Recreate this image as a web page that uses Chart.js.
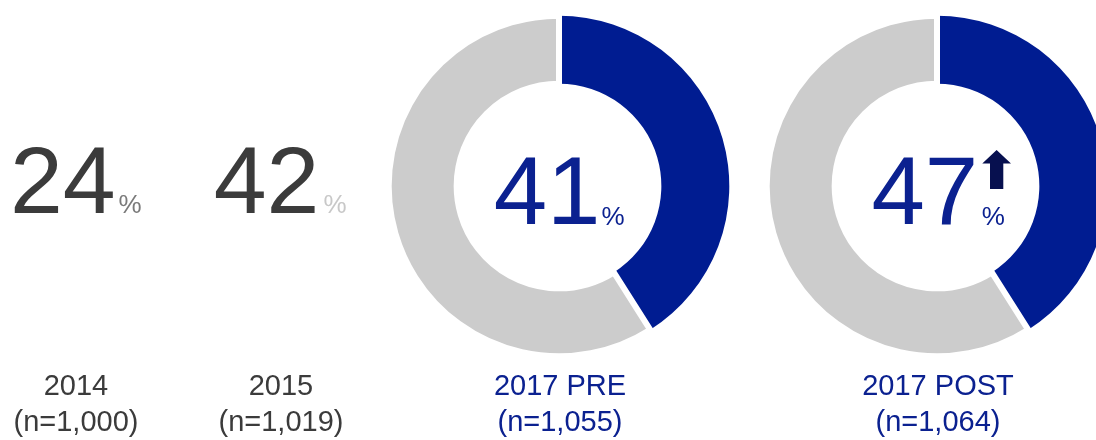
<!DOCTYPE html>
<html>
<head>
<meta charset="utf-8">
<script src="https://cdn.jsdelivr.net/npm/chart.js@4/dist/chart.umd.min.js"></script>
<style>
  html, body { margin: 0; padding: 0; background: #ffffff; }
  body { width: 1096px; height: 440px; overflow: hidden; position: relative;
         font-family: 'Liberation Sans', Arial, sans-serif; }
  .t { position: absolute; line-height: 1; white-space: nowrap; }
  .c { position: absolute; }
</style>
</head>
<body>
<canvas id="ring0" class="c" width="360" height="360" style="left:379px;top:6px;"></canvas>
<canvas id="ring1" class="c" width="360" height="360" style="left:757px;top:6px;"></canvas>
<svg id="arrow" style="position:absolute;left:0;top:0;width:1096px;height:440px;pointer-events:none;">
  <polygon points="982.3,163.5 996.6,150 1011,163.5 1003.3,163.5 1003.3,189 990,189 990,163.5" fill="#07104f"/>
</svg>
<script>
// ---- data ----
const categories = ['2014', '2015', '2017 PRE', '2017 POST'];
const sampleSizes = ['(n=1,000)', '(n=1,019)', '(n=1,055)', '(n=1,064)'];
const headlineValues = [24, 42, 41, 47];
// share shown as the blue arc in each ring (as drawn in the picture)
const ringValues = [41, 41];

// ---- styling / layout ----
const BLUE = '#001c91';
const BLUE_TEXT = '#0b2190';
const DARK = '#3b3b3b';
const RING_GREY = '#cccccc';
const bigNumberStyle = [
  { x: 10,    base: 213, fs: 95, color: DARK,      pct: { x: 118.5, base: 213.3, color: '#7a7a7a' } },
  { x: 213.7, base: 213, fs: 95, color: DARK,      pct: { x: 323.5, base: 213.3, color: '#c8c8c8' } },
  { x: 493.7, base: 224, fs: 96, color: BLUE_TEXT, pct: { x: 601.5, base: 225,   color: BLUE_TEXT } },
  { x: 871.4, base: 224, fs: 96, color: BLUE_TEXT, pct: { x: 981.8, base: 225,   color: BLUE_TEXT } }
];
const labelCenters = [76, 281, 560, 938];
const labelColors = [DARK, DARK, BLUE_TEXT, BLUE_TEXT];
const ASC = 0.8465; // baseline offset for Liberation Sans with line-height 1

function addText(str, left, baseline, fs, color, center) {
  const d = document.createElement('div');
  d.className = 't';
  d.textContent = str;
  d.style.fontSize = fs + 'px';
  d.style.color = color;
  d.style.top = (baseline - ASC * fs) + 'px';
  if (center) {
    d.style.left = (left - 150) + 'px';
    d.style.width = '300px';
    d.style.textAlign = 'center';
  } else {
    d.style.left = left + 'px';
  }
  document.body.appendChild(d);
}

headlineValues.forEach((v, i) => {
  const s = bigNumberStyle[i];
  addText(String(v), s.x, s.base, s.fs, s.color, false);
  addText('%', s.pct.x, s.pct.base, 26, s.pct.color, false);
});
categories.forEach((c, i) => {
  addText(c, labelCenters[i], 396, 29, labelColors[i], true);
  addText(sampleSizes[i], labelCenters[i], 432, 29, labelColors[i], true);
});

ringValues.forEach((v, i) => {
  new Chart(document.getElementById('ring' + i), {
    type: 'doughnut',
    data: {
      labels: ['Yes', 'Other'],
      datasets: [{
        data: [v, 100 - v],
        backgroundColor: [BLUE, RING_GREY],
        borderColor: '#ffffff',
        borderWidth: [0, 6],
        borderJoinStyle: 'miter',
        hoverOffset: 0
      }]
    },
    options: {
      responsive: false,
      devicePixelRatio: 1,
      animation: false,
      events: [],
      radius: 170.3,
      cutout: '60.1%',
      layout: { padding: 0 },
      plugins: { legend: { display: false }, tooltip: { enabled: false }, title: { display: false } }
    }
  });
});
</script>
</body>
</html>
